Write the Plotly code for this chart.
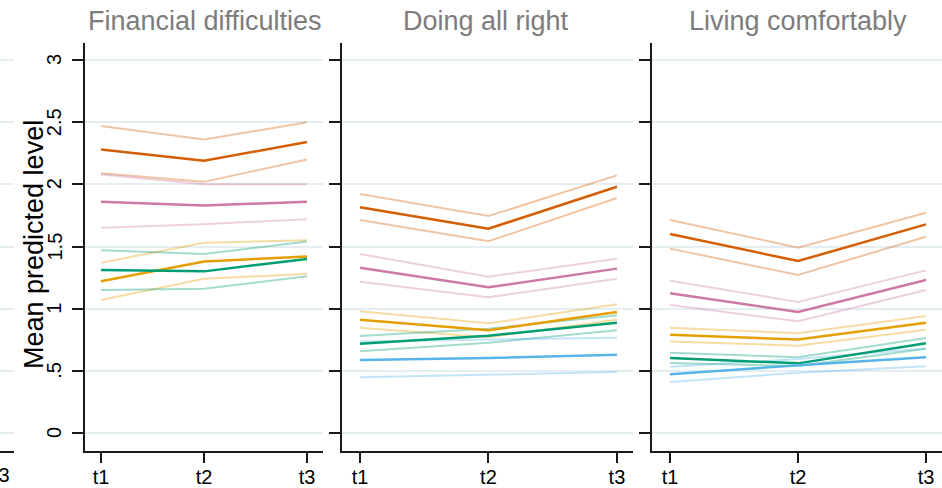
import plotly.graph_objects as go

# ---------------- data ----------------
times = ["t1", "t2", "t3"]
time_pos = [1, 2, 3]
panels = ["Financial difficulties", "Doing all right", "Living comfortably"]
groups = ["A", "B", "C", "D", "E"]
colors = {"A": (213, 94, 0), "B": (204, 121, 167), "C": (230, 159, 0),
          "D": (0, 158, 115), "E": (86, 180, 233)}

# Financial difficulties
fin_A_mid = [2.28, 2.19, 2.34]; fin_A_lo = [2.09, 2.02, 2.20]; fin_A_hi = [2.47, 2.36, 2.50]
fin_B_mid = [1.86, 1.83, 1.86]; fin_B_lo = [1.65, 1.68, 1.72]; fin_B_hi = [2.08, 2.00, 2.00]
fin_C_mid = [1.22, 1.38, 1.42]; fin_C_lo = [1.07, 1.24, 1.28]; fin_C_hi = [1.37, 1.53, 1.55]
fin_D_mid = [1.31, 1.30, 1.40]; fin_D_lo = [1.15, 1.16, 1.26]; fin_D_hi = [1.47, 1.44, 1.54]

# Doing all right
ok_A_mid = [1.815, 1.643, 1.981]; ok_A_lo = [1.713, 1.542, 1.890]; ok_A_hi = [1.922, 1.745, 2.072]
ok_B_mid = [1.330, 1.172, 1.322]; ok_B_lo = [1.217, 1.091, 1.241]; ok_B_hi = [1.440, 1.257, 1.402]
ok_C_mid = [0.911, 0.826, 0.973]; ok_C_lo = [0.847, 0.770, 0.911]; ok_C_hi = [0.979, 0.882, 1.035]
ok_D_mid = [0.718, 0.783, 0.887]; ok_D_lo = [0.657, 0.726, 0.826]; ok_D_hi = [0.780, 0.839, 0.947]
ok_E_mid = [0.587, 0.603, 0.630]; ok_E_lo = [0.448, 0.469, 0.491]; ok_E_hi = [0.735, 0.751, 0.767]

# Living comfortably
com_A_mid = [1.601, 1.383, 1.678]; com_A_lo = [1.483, 1.271, 1.579]; com_A_hi = [1.713, 1.491, 1.772]
com_B_mid = [1.124, 0.973, 1.231]; com_B_lo = [1.030, 0.898, 1.150]; com_B_hi = [1.225, 1.054, 1.308]
com_C_mid = [0.791, 0.751, 0.887]; com_C_lo = [0.735, 0.702, 0.831]; com_C_hi = [0.847, 0.802, 0.941]
com_D_mid = [0.603, 0.560, 0.721]; com_D_lo = [0.563, 0.539, 0.678]; com_D_hi = [0.646, 0.609, 0.764]
com_E_mid = [0.472, 0.544, 0.609]; com_E_lo = [0.410, 0.485, 0.536]; com_E_hi = [0.533, 0.595, 0.680]

y_ticks = [0, 0.5, 1, 1.5, 2, 2.5, 3]
y_ticktext = ["0", ".5", "1", "1.5", "2", "2.5", "3"]

panel_data = [
    {"A": (fin_A_mid, fin_A_lo, fin_A_hi), "B": (fin_B_mid, fin_B_lo, fin_B_hi),
     "C": (fin_C_mid, fin_C_lo, fin_C_hi), "D": (fin_D_mid, fin_D_lo, fin_D_hi)},
    {"A": (ok_A_mid, ok_A_lo, ok_A_hi), "B": (ok_B_mid, ok_B_lo, ok_B_hi),
     "C": (ok_C_mid, ok_C_lo, ok_C_hi), "D": (ok_D_mid, ok_D_lo, ok_D_hi),
     "E": (ok_E_mid, ok_E_lo, ok_E_hi)},
    {"A": (com_A_mid, com_A_lo, com_A_hi), "B": (com_B_mid, com_B_lo, com_B_hi),
     "C": (com_C_mid, com_C_lo, com_C_hi), "D": (com_D_mid, com_D_lo, com_D_hi),
     "E": (com_E_mid, com_E_lo, com_E_hi)},
]

# ---------------- layout geometry ----------------
W, H = 942, 488
FONT = "Liberation Sans, Arial, Helvetica, sans-serif"
GRID = "#e4eef1"
AX = "#1a1a1a"

def px(sx):
    return sx / W

x_domains = [[px(85), px(323)], [px(342), px(633)], [px(652), 1.0]]
x_ranges = [[0.845, 3.155], [0.860, 3.125], [0.859, 3.125]]
y_dom = [1 - 451 / H, 1 - 43 / H]
y_rng = [-0.145, 3.137]

fig = go.Figure()

def rgba(c, a):
    return f"rgba({c[0]},{c[1]},{c[2]},{a})"

for i, pdata in enumerate(panel_data):
    xa = "x" if i == 0 else f"x{i+1}"
    ya = "y" if i == 0 else f"y{i+1}"
    for g in groups:
        if g not in pdata:
            continue
        mid, lo, hi = pdata[g]
        for band in (hi, lo):
            fig.add_trace(go.Scatter(x=time_pos, y=band, mode="lines", xaxis=xa, yaxis=ya,
                                     line=dict(color=rgba(colors[g], 0.36), width=2),
                                     showlegend=False, hoverinfo="skip"))
    for g in groups:
        if g not in pdata:
            continue
        mid, lo, hi = pdata[g]
        fig.add_trace(go.Scatter(x=time_pos, y=mid, mode="lines", xaxis=xa, yaxis=ya,
                                 line=dict(color=rgba(colors[g], 1), width=2.5),
                                 showlegend=False))

# partial panel on far left (cut-off neighbour)
fig.add_trace(go.Scatter(x=[3.1], y=[None], xaxis="x4", yaxis="y4", showlegend=False))

layout = dict(
    width=W, height=H, autosize=False, margin=dict(l=0, r=0, t=0, b=0, pad=0),
    paper_bgcolor="white", plot_bgcolor="white", showlegend=False,
    font=dict(family=FONT, color="black"),
)

xcommon = dict(ticks="outside", ticklen=10,
               tickwidth=1.5, tickcolor=AX, showline=True, linecolor=AX, linewidth=2,
               showgrid=False, zeroline=False, tickfont=dict(size=20, color="black"),
               ticklabelstandoff=-3, ticklabeloverflow="allow")

for i in range(3):
    xk = "xaxis" if i == 0 else f"xaxis{i+1}"
    yk = "yaxis" if i == 0 else f"yaxis{i+1}"
    ya_anchor = "y" if i == 0 else f"y{i+1}"
    xa_anchor = "x" if i == 0 else f"x{i+1}"
    layout[xk] = dict(domain=x_domains[i], range=x_ranges[i], anchor=ya_anchor,
                      tickvals=time_pos, ticktext=times, **xcommon)
    layout[yk] = dict(domain=y_dom, range=y_rng, anchor=xa_anchor,
                      tickvals=y_ticks, ticks="outside", ticklen=11,
                      tickwidth=1.5, tickcolor=AX, showline=True, linecolor=AX, linewidth=2,
                      showgrid=True, gridcolor=GRID, gridwidth=1.5, zeroline=False,
                      showticklabels=False)

layout["xaxis4"] = dict(domain=[0, px(14)], range=[3.05, 3.15], anchor="y4",
                        tickvals=[], **xcommon)
layout["yaxis4"] = dict(domain=y_dom, range=y_rng, anchor="x4", tickvals=y_ticks,
                        showticklabels=False, ticks="", showline=False, showgrid=True,
                        gridcolor=GRID, gridwidth=1.5, zeroline=False)

annotations = []
title_x = [205, 486, 798]
for i, name in enumerate(panels):
    annotations.append(dict(text=name, x=px(title_x[i]), y=1 - 21 / H, xref="paper", yref="paper",
                            xanchor="center", yanchor="middle", showarrow=False,
                            font=dict(size=27, color="#7c7c7c", family=FONT)))
# rotated y tick labels (Stata style) on the first panel
for v, t in zip(y_ticks, y_ticktext):
    annotations.append(dict(text=t, x=px(54), y=v, xref="paper", yref="y",
                            xanchor="center", yanchor="middle", showarrow=False,
                            textangle=-90, font=dict(size=20, color="black", family=FONT)))
annotations.append(dict(text="Mean predicted level", x=px(34), y=1 - 245 / H, xref="paper",
                        yref="paper", xanchor="center", yanchor="middle", showarrow=False,
                        textangle=-90, font=dict(size=27, color="black", family=FONT)))
# cut-off tick label of the neighbouring panel on the far left (as in the source crop)
annotations.append(dict(text=times[2], x=px(1), y=1 - 475 / H, xref="paper", yref="paper",
                        xanchor="center", yanchor="middle", showarrow=False,
                        font=dict(size=20, color="black", family=FONT)))
layout["annotations"] = annotations

fig.update_layout(**layout)

post = ("document.documentElement.style.margin='0';"
        "document.body.style.margin='0';document.body.style.padding='0';"
        "document.body.style.overflow='hidden';"
        "var d=document.getElementById('{plot_id}');"
        "d.style.position='absolute';d.style.left='0px';d.style.top='0px';")
fig.write_html("out.html", config={"responsive": False, "displayModeBar": False},
               post_script=post)
